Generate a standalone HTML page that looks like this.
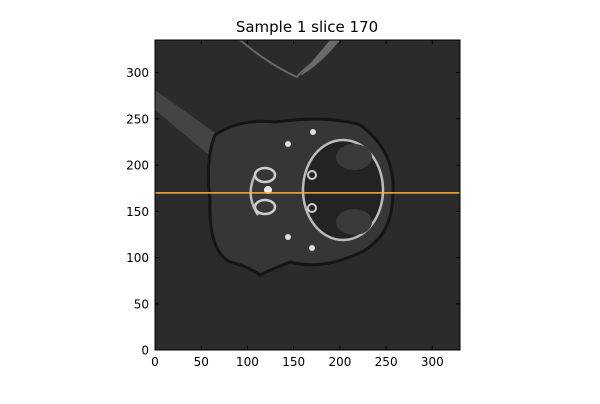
<!DOCTYPE html>
<html><head><meta charset="utf-8"><style>
body{margin:0;background:#fff;width:600px;height:400px;overflow:hidden;font-family:"DejaVu Sans","Liberation Sans",sans-serif}
</style></head><body>
<svg id="c" width="600" height="400" xmlns="http://www.w3.org/2000/svg">
<text x="307" y="32" font-size="15" text-anchor="middle">Sample 1 slice 170</text>
<g>
<rect x="155" y="40" width="305" height="310" fill="#2b2b2b"/>
<clipPath id="cp"><rect x="155" y="40" width="305" height="310"/></clipPath>
<g clip-path="url(#cp)">
<path d="M155 90 L225 140 L215 160 L155 110 Z" fill="#444"/>
<path d="M240 40 Q270 65 297 77 Q300 72 340 40" fill="none" stroke="#666" stroke-width="2"/>
<path d="M300 76 L330 40 L340 40 Q320 65 300 76Z" fill="#6a6a6a"/>
<path d="M215 135 Q240 118 275 122 Q330 115 360 125 Q395 150 393 192 Q393 240 355 255 Q320 270 290 262 Q270 270 260 275 Q245 265 230 262 Q208 250 210 200 Q205 160 215 135 Z" fill="#363636" stroke="#151515" stroke-width="3"/>
<ellipse cx="343" cy="190" rx="40" ry="50" fill="#232323" stroke="#bbb" stroke-width="2.5"/>
<ellipse cx="354" cy="157" rx="18" ry="13" fill="#3a3a3a"/>
<ellipse cx="354" cy="222" rx="18" ry="13" fill="#3a3a3a"/>
<path d="M255 175 Q245 195 258 215" fill="none" stroke="#bbb" stroke-width="2.5"/>
<ellipse cx="265" cy="175" rx="10" ry="7" fill="none" stroke="#ccc" stroke-width="2.5"/>
<ellipse cx="265" cy="207" rx="10" ry="7" fill="none" stroke="#ccc" stroke-width="2.5"/>
<circle cx="268" cy="190" r="4" fill="#eee"/>
<circle cx="288" cy="144" r="3" fill="#ddd"/><circle cx="312" cy="175" r="4" fill="none" stroke="#ccc" stroke-width="2"/>
<circle cx="312" cy="208" r="4" fill="none" stroke="#ccc" stroke-width="2"/><circle cx="288" cy="237" r="3" fill="#ddd"/>
<circle cx="312" cy="248" r="3" fill="#ddd"/><circle cx="313" cy="132" r="3" fill="#ddd"/>
</g></g>
<g id="axes"></g>
</svg>
<script>
const xTicks=[0,50,100,150,200,250,300];
const yTicks=[0,50,100,150,200,250,300];
const sliceValue=[170];
const X0=155,Y0=350,S=0.9245;
const sx=v=>X0+v*S, sy=v=>Y0-v*S;
const NS="http://www.w3.org/2000/svg";
const g=document.getElementById('axes');
function mk(t,a){const e=document.createElementNS(NS,t);for(const k in a)e.setAttribute(k,a[k]);g.appendChild(e);return e;}
sliceValue.forEach(v=>{
 const l=mk('line',{x1:155,x2:460,y1:sy(v),y2:sy(v),stroke:'#f2b04a','stroke-width':1.5});
 
 
});
mk('rect',{x:155,y:40,width:305,height:310,fill:'none',stroke:'#000','stroke-width':1});
xTicks.forEach(v=>{
 mk('line',{x1:sx(v),x2:sx(v),y1:350,y2:346,stroke:'#000'});
 mk('line',{x1:sx(v),x2:sx(v),y1:40,y2:44,stroke:'#000'});
 const t=mk('text',{x:sx(v),y:366,'font-size':12,'text-anchor':'middle'});t.textContent=v;
 
 
});
yTicks.forEach(v=>{
 mk('line',{x1:155,x2:159,y1:sy(v),y2:sy(v),stroke:'#000'});
 mk('line',{x1:460,x2:456,y1:sy(v),y2:sy(v),stroke:'#000'});
 const t=mk('text',{x:149,y:sy(v)+4.5,'font-size':12,'text-anchor':'end'});t.textContent=v;
 
 
});
</script>
</body></html>
